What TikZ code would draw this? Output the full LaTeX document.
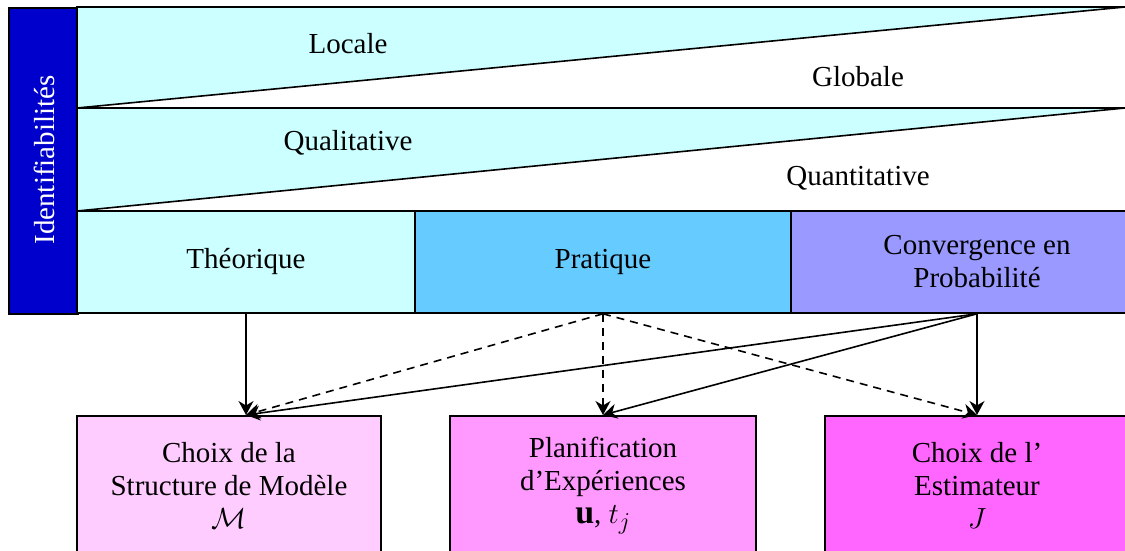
\documentclass[tikz,border=0pt]{standalone}
\usepackage{graphicx}
\usepackage{fontspec}
\setmainfont{Liberation Serif}
\usetikzlibrary{arrows.meta}
\definecolor{paleCyan}{HTML}{CCFFFF}
\definecolor{skyBlue}{HTML}{66CCFF}
\definecolor{lavender}{HTML}{9999FF}
\definecolor{deepBlue}{HTML}{0000CC}
\definecolor{pinkA}{HTML}{FFCCFF}
\definecolor{pinkB}{HTML}{FF99FF}
\definecolor{pinkC}{HTML}{FF66FF}
% math at body size (CM math stops growing at 24.88pt)
\newcommand{\bigmath}[1]{\scalebox{1.17}{$#1$}}
\begin{document}
\begin{tikzpicture}[x=1pt,y=-1pt,
  font=\fontsize{29}{33}\selectfont,
  line width=1.6pt,
  cell/.style={draw, rectangle, inner sep=0pt, align=center},
  label/.style={inner sep=0pt, align=center},
  arr/.style={-{Stealth[length=14pt,width=15pt,inset=4.5pt]}},
  dasharr/.style={arr, dash pattern=on 8pt off 6pt}]
\useasboundingbox (0,0) rectangle (1125,551);

% identifiability bar
\node[cell, fill=deepBlue, minimum width=69pt, minimum height=306pt, anchor=north west] (bar) at (8,7) {};
\node[label, text=white, rotate=90] (ident) at (44,160) {Identifiabilités};

% local / global band
\draw[fill=white] (77,7) rectangle (1135,108);
\draw[fill=paleCyan] (77,7) -- (1125,7) -- (77,108) -- cycle;
\node[label] (locale) at (348,44) {Locale};
\node[label] (globale) at (858,77) {Globale};

% qualitative / quantitative band
\draw[fill=white] (77,108) rectangle (1135,211);
\draw[fill=paleCyan] (77,108) -- (1125,108) -- (77,211) -- cycle;
\node[label] (quali) at (348,143) {Qualitative};
\node[label] (quanti) at (858,178) {Quantitative};

% kinds of identifiability
\node[cell, fill=paleCyan, minimum width=338pt, minimum height=102pt] (theo) at (246,262) {Théorique};
\node[cell, fill=skyBlue, minimum width=376pt, minimum height=102pt] (prat) at (603,262) {Pratique};
\node[cell, fill=lavender, minimum width=372pt, minimum height=102pt] (conv) at (977,262) {Convergence en\\Probabilité};

% consequences
\node[cell, fill=pinkA, minimum width=304pt, minimum height=140pt, anchor=north] (b1) at (229,415) {Choix de la\\Structure de Modèle\\\bigmath{\mathcal{M}}};
\node[cell, fill=pinkB, minimum width=306pt, minimum height=140pt, anchor=north] (b2) at (603,415) {Planification\\d’Expériences\\\bigmath{\mathbf{u}}, \bigmath{t_j}};
\node[cell, fill=pinkC, minimum width=304pt, minimum height=140pt, anchor=north] (b3) at (977,415) {Choix de l’\\Estimateur\\\bigmath{J}};

\coordinate (b1in) at (theo.south |- b1.north);

% links
\draw[arr] (theo.south) -- (b1in);
\draw[dasharr] (prat.south) -- (b1in);
\draw[dasharr] (prat.south) -- (b2.north);
\draw[dasharr] (prat.south) -- (b3.north);
\draw[arr] (conv.south) -- (b1in);
\draw[arr] (conv.south) -- (b2.north);
\draw[arr] (conv.south) -- (b3.north);
\end{tikzpicture}
\end{document}
